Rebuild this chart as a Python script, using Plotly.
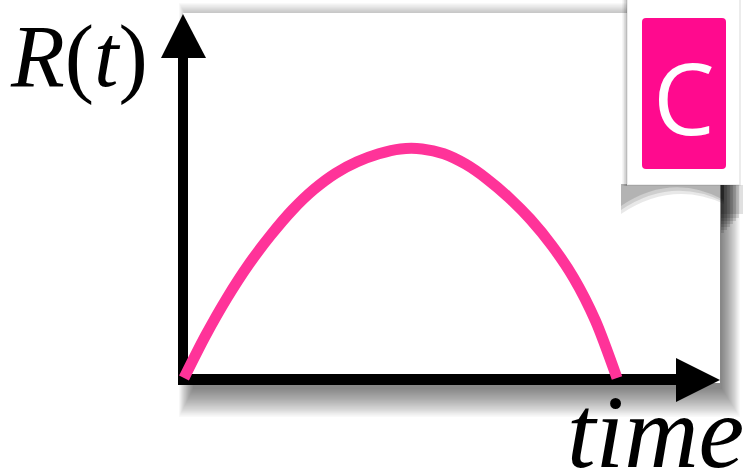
import plotly.graph_objects as go

# ---- data ----
time_vals = [0, 0.5, 1, 1.5, 2, 2.5, 3, 3.5, 4, 4.5, 5,
             5.5, 6, 6.5, 7, 7.5, 8, 8.5, 9, 9.5, 10]
r_vals = [0.0, 0.185, 0.35, 0.495, 0.62, 0.73, 0.82, 0.89, 0.94, 0.975, 0.996,
          0.996, 0.975, 0.93, 0.865, 0.785, 0.69, 0.575, 0.435, 0.25, 0.0]
y_label = "<i>R</i>(<i>t</i>)"
x_label = "<i>time</i>"
badge_text = "C"

W, H = 746, 469
# pixel mapping: t=0 -> x=184, t=10 -> x=617 ; R=0 -> y=378, R=1 -> y=148
PX_PER_T = 43.3
T0_PX = 184
PX_PER_R = 230
R0_PX = 378
x_range = [-T0_PX / PX_PER_T, (W - T0_PX) / PX_PER_T]
y_range = [-(H - R0_PX) / PX_PER_R, R0_PX / PX_PER_R]


def px(x):
    return x / W


def py(y):
    return 1 - y / H


shapes = []


def rect(x0, y0, x1, y1, fill, opacity=1.0, line=None):
    shapes.append(dict(type="rect", xref="paper", yref="paper",
                       x0=px(x0), x1=px(x1), y0=py(y1), y1=py(y0),
                       fillcolor=fill, opacity=opacity,
                       line=line or dict(width=0), layer="below"))


def path(points, fill, opacity=1.0, closed=True, raw=None):
    if raw is None:
        d = "M " + " L ".join(f"{px(x)},{py(y)}" for x, y in points)
        if closed:
            d += " Z"
    else:
        d = raw
    shapes.append(dict(type="path", xref="paper", yref="paper", path=d,
                       fillcolor=fill, opacity=opacity, line=dict(width=0),
                       layer="below"))


# panel shadow (soft, offset down-right)
P = (183, 13, 720, 383)
N = 24
for s in range(N):
    f = s / (N - 1)
    rect(P[0] + 10 - 14 * f, P[1] + 14 - 24 * f,
         P[2] + 2 + 18 * f, P[3] + 6 + 28 * f, "black", 0.024)
# panel
rect(*P, "white")

# card shadows
for w in (1.5, 3, 4.5):
    rect(627 - w, -5, 627, 186, "black", 0.07)
# curl shadow under card
for k, op in ((0, 0.13), (4, 0.11), (8, 0.09)):
    d = (f"M {px(621)},{py(184)} L {px(724)},{py(184)} L {px(724)},{py(200 + k * 0.5)} "
         f"Q {px(672)},{py(172 + k)} {px(621)},{py(206 + k)} Z")
    path(None, "black", op, raw=d)
for w in (3, 6, 9, 12, 15, 18, 22):
    rect(721, 185, 721 + w, 236 - w, "black", 0.12)
# card
rect(627, -5, 740, 185, "white", 1.0, dict(width=1.5, color="rgba(0,0,0,0.10)"))
# badge pink rounded rect
x0, y0, x1, y1, r = 642, 18, 726, 169, 4
d = (f"M {px(x0 + r)},{py(y0)} L {px(x1 - r)},{py(y0)} Q {px(x1)},{py(y0)} {px(x1)},{py(y0 + r)} "
     f"L {px(x1)},{py(y1 - r)} Q {px(x1)},{py(y1)} {px(x1 - r)},{py(y1)} "
     f"L {px(x0 + r)},{py(y1)} Q {px(x0)},{py(y1)} {px(x0)},{py(y1 - r)} "
     f"L {px(x0)},{py(y0 + r)} Q {px(x0)},{py(y0)} {px(x0 + r)},{py(y0)} Z")
path(None, "#FF0A8E", 1.0, raw=d)

# axes
rect(178, 56, 188, 385, "black")
path([(161, 58), (206, 58), (183, 14)], "black")
rect(178, 374, 678, 385, "black")
path([(676, 358), (676, 402), (720, 380)], "black")

fig = go.Figure()
fig.add_trace(go.Scatter(x=time_vals, y=r_vals, mode="lines",
                         line=dict(color="#FF3399", width=11, shape="spline",
                                   smoothing=0.8),
                         hoverinfo="skip", showlegend=False))

annotations = [
    dict(text=y_label, x=px(79), y=py(57), xref="paper", yref="paper",
         xanchor="center", yanchor="middle", showarrow=False,
         font=dict(family="Liberation Serif", size=88, color="black")),
    dict(text=x_label, x=px(655), y=py(432), xref="paper", yref="paper",
         xanchor="center", yanchor="middle", showarrow=False,
         font=dict(family="Liberation Serif", size=103, color="black")),
    dict(text=badge_text, x=px(684), y=py(97), xref="paper", yref="paper",
         xanchor="center", yanchor="middle", showarrow=False,
         font=dict(family="Open Sans", size=98, color="white")),
]

fig.update_layout(
    width=W, height=H,
    margin=dict(l=0, r=0, t=0, b=0),
    paper_bgcolor="white", plot_bgcolor="rgba(0,0,0,0)",
    xaxis=dict(range=x_range, visible=False, fixedrange=True),
    yaxis=dict(range=y_range, visible=False, fixedrange=True),
    shapes=shapes, annotations=annotations, showlegend=False,
)

fig.write_html("out.html", config={"displayModeBar": False},
               post_script="document.body.style.margin='0';document.body.style.overflow='hidden';")
